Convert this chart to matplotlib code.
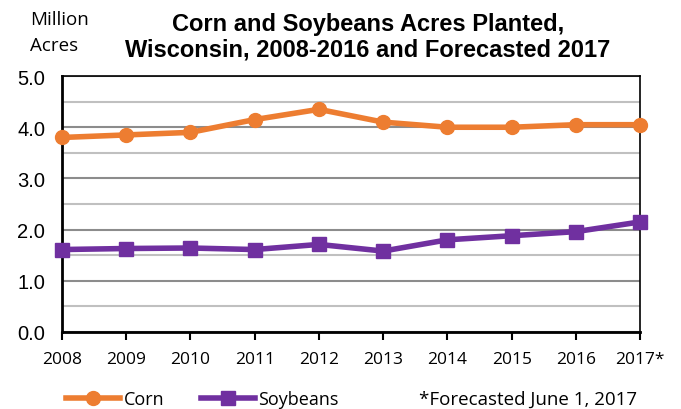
import matplotlib.pyplot as plt
from matplotlib.ticker import MultipleLocator

years = [2008, 2009, 2010, 2011, 2012, 2013, 2014, 2015, 2016, 2017]
year_labels = ['2008', '2009', '2010', '2011', '2012', '2013', '2014', '2015', '2016', '2017*']
corn = [3.80, 3.85, 3.90, 4.15, 4.35, 4.10, 4.00, 4.00, 4.05, 4.05]
soybeans = [1.61, 1.63, 1.64, 1.61, 1.71, 1.58, 1.80, 1.88, 1.96, 2.15]

orange = '#ED7D31'
purple = '#7030A0'

fig = plt.figure(figsize=(6.81, 4.10), dpi=100)
ax = fig.add_axes([0.091, 0.188, 0.849, 0.624])

ax.plot(years, corn, color=orange, lw=4, marker='o', ms=10, label='Corn', clip_on=False, zorder=3)
ax.plot(years, soybeans, color=purple, lw=4, marker='s', ms=10.5, label='Soybeans', clip_on=False, zorder=3)

ax.set_xlim(2008, 2017)
ax.set_ylim(0, 5)
ax.yaxis.set_minor_locator(MultipleLocator(0.5))
ax.set_yticks([0, 1, 2, 3, 4, 5])
ax.set_yticklabels(['%.1f' % v for v in range(6)], fontsize=14.5, family='Liberation Sans')
ax.tick_params(axis='y', which='both', length=0, pad=12)
ax.grid(axis='y', which='major', color='#8c8c8c', lw=1.5)
ax.grid(axis='y', which='minor', color='#c0c0c0', lw=1.5)
ax.set_axisbelow(True)

ax.set_xticks(years)
ax.set_xticklabels(year_labels, fontsize=12.5, family='Open Sans')
ax.tick_params(axis='x', direction='out', length=6, width=1.5, pad=8)

for s in ['left', 'bottom']:
    ax.spines[s].set_linewidth(2)
for s in ['top', 'right']:
    ax.spines[s].set_linewidth(1.2)

fig.text(0.54, 1 - 25 / 410, 'Corn and Soybeans Acres Planted,', ha='center', va='center',
         fontsize=17, fontweight='bold', family='Liberation Sans')
fig.text(0.54, 1 - 50 / 410, 'Wisconsin, 2008-2016 and Forecasted 2017', ha='center', va='center',
         fontsize=17, fontweight='bold', family='Liberation Sans')
fig.text(0.044, 1 - 20 / 410, 'Million', fontsize=13.5, family='Open Sans', va='center')
fig.text(0.044, 1 - 46 / 410, 'Acres', fontsize=13.5, family='Open Sans', va='center')

fig.legend(loc='center left', bbox_to_anchor=(0.097, 1 - 400 / 410), ncol=2, frameon=False,
           handlelength=3.0, columnspacing=2.0, handletextpad=0.2,
           prop={'family': 'Open Sans', 'size': 13}, borderaxespad=0, borderpad=0)
fig.text(0.935, 1 - 400 / 410, '*Forecasted June 1, 2017', ha='right', va='center',
         fontsize=13.5, family='Open Sans')

fig.savefig('out.png', dpi=100)
